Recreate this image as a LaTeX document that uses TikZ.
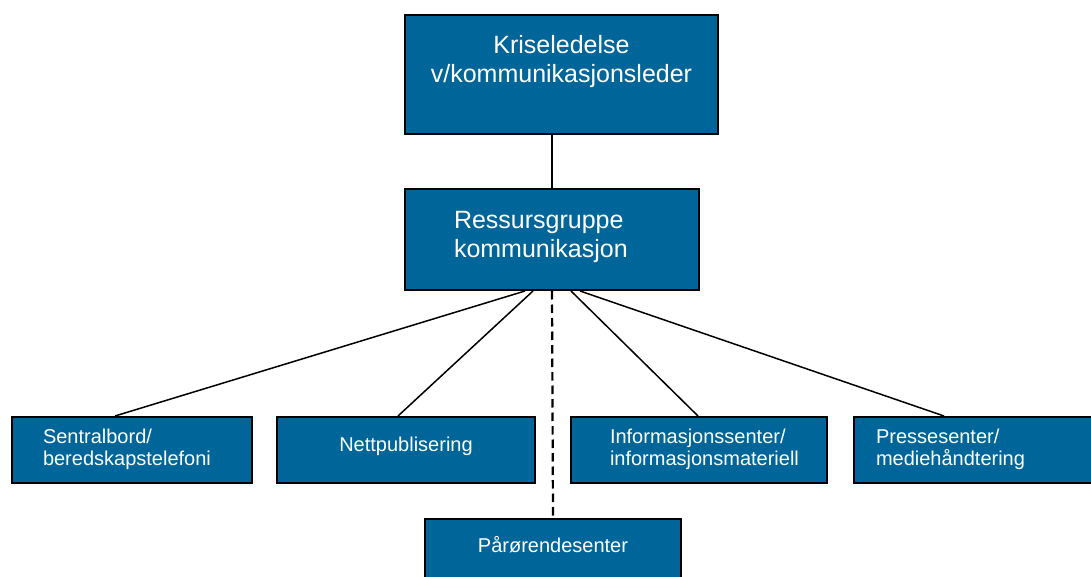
\documentclass[tikz,border=0pt]{standalone}
\usepackage{fontspec}
\setmainfont{Liberation Sans}
\usetikzlibrary{positioning, calc}
\definecolor{unitblue}{HTML}{00669A}
\hyphenpenalty=10000
\exhyphenpenalty=10000

\begin{document}
\begin{tikzpicture}[
        x=0.5pt, y=-0.5pt,
        unit/.style={draw=black, line width=1pt, fill=unitblue, text=white,
          anchor=north west, inner ysep=0pt, align=left,
          font=\fontsize{10}{11}\selectfont},
        big/.style={font=\fontsize{12.5}{14.5}\selectfont},
        link/.style={line width=0.75pt},
        loose/.style={line width=1.1pt, dash pattern=on 4.25pt off 2.5pt}
        ]
        \useasboundingbox (0,0) rectangle (1091,577);

        \node[unit, big, align=center, minimum width=156.5pt, inner xsep=5pt, text width=146.5pt,
          text height=19.5pt, text depth=40pt]   (leder)    at (404,14)  {Kriseledelse\\v/kommunikasjonsleder};
        \node[unit, big, minimum width=147pt, inner xsep=24.5pt, text width=98pt,
          text height=19.5pt, text depth=31pt]   (ressurs)  at (404,188) {Ressursgruppe\\kommunikasjon};

        \node[unit, minimum width=120pt, inner xsep=15.5pt, text width=89pt,
          text height=13pt, text depth=20pt]     (sentral)  at (11,416)  {Sentralbord/\\beredskapstelefoni};
        \node[unit, align=center, minimum width=129pt, inner xsep=5pt, text width=119pt,
          text height=17pt, text depth=16pt]     (nett)     at (276,416) {Nettpublisering};
        \node[unit, minimum width=128pt, inner xsep=19.5pt, text width=89pt,
          text height=13pt, text depth=20pt]     (info)     at (570,416) {Informasjonssenter/\\informasjonsmateriell};
        \node[unit, minimum width=121pt, inner xsep=11pt, text width=99pt,
          text height=13pt, text depth=20pt]     (presse)   at (853,416) {Pressesenter/\\mediehåndtering};
        \node[unit, align=center, minimum width=128pt, inner xsep=5pt, text width=118pt,
          text height=16.5pt, text depth=16.5pt] (parorende) at (424,518) {Pårørendesenter};

        \path[link] (ressurs.north) edge (ressurs.north |- leder.south)
        ($(ressurs.south)+(-27,0)$) edge ($(sentral.north)+(-17,0)$)
        ($(ressurs.south)+(-19,0)$) edge ($(nett.north)+(-8,0)$)
        ($(ressurs.south)+(19,0)$)  edge ($(info.north)+(-1,0)$)
        ($(ressurs.south)+(28,0)$)  edge ($(presse.north)+(-31,0)$);
        \draw[loose] (ressurs.south) -- (parorende.north);
      \end{tikzpicture}
\end{document}
